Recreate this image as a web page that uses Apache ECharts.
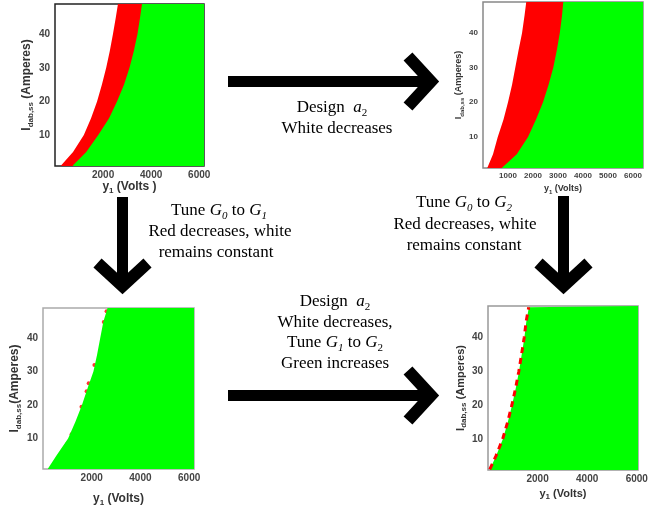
<!DOCTYPE html>
<html><head><meta charset="utf-8">
<script src="https://cdn.jsdelivr.net/npm/echarts@6/dist/echarts.min.js"></script>
<style>html,body{margin:0;padding:0;background:#fff}#c{width:654px;height:508px}</style>
</head><body><div id="c"></div>
<script>
// ---- data ----
const edgeRows   = [1, 5, 10, 15, 20, 25, 30, 35, 40, 45, 49];          // I_dab,ss (A)
const p1RedEdge   = [260, 750, 1200, 1500, 1750, 1950, 2130, 2280, 2410, 2530, 2620];
const p1GreenEdge = [750, 1300, 1800, 2250, 2580, 2870, 3100, 3280, 3430, 3540, 3620];
const p2RedEdge   = [170, 400, 590, 820, 1000, 1160, 1290, 1420, 1560, 1660, 1730];
const p2GreenEdge = [750, 1350, 1800, 2120, 2400, 2620, 2810, 2950, 3070, 3160, 3210];
const p3GreenEdge = [200, 560, 1030, 1330, 1600, 1830, 2070, 2220, 2350, 2480, 2650];
const p4GreenEdge = [80, 330, 600, 800, 970, 1120, 1250, 1360, 1467, 1550, 1650];
const p3DotX = [2610, 2495, 2110, 1875, 1790, 1580, 1175, 980];
const p3DotY = [48.0, 44.8, 32.0, 26.5, 24.1, 19.5, 11.3, 8.3];
const xTicks4 = [2000, 4000, 6000];
const xTicks2 = [1000, 2000, 3000, 4000, 5000, 6000];
const yTicks  = [10, 20, 30, 40];

const RED = '#ff0000', GREEN = '#00ff00', TXT = '#c0141c';
const panels = [
  {left:55,  top:4,   width:149, height:162, xmax:6200, ymin:0.8, ymax:49,   xt:xTicks4, fs:10, nfs:12, sfs:8, border:'#222', yGap:14, xGap:2,  xName:' (Volts )', yName:' (Amperes)'},
  {left:483, top:2,   width:160, height:166, xmax:6400, ymin:1.0, ymax:49,   xt:xTicks2, fs:8,  nfs:9,  sfs:6, border:'#888', yGap:13, xGap:6,  xName:' (Volts)', yName:' (Amperes)'},
  {left:43,  top:308, width:151, height:164, xmax:6200, ymin:0.9, ymax:49,   xt:xTicks4, fs:10, nfs:12, sfs:8, border:'#aaa', yGap:17, xGap:12, xName:' (Volts)', yName:'(Amperes)'},
  {left:488, top:306, width:150, height:164, xmax:6050, ymin:0.8, ymax:49.4, xt:xTicks4, fs:10, nfs:11, sfs:8, border:'#999', yGap:18, xGap:6,  xName:' (Volts)', yName:' (Amperes)'}
];

function edge(xs, p) {
  const d = edgeRows.map((y, i) => [xs[i], y]);
  d.push([p.xmax, p.ymax]);
  return d;
}
function rich(p) {
  const base = {fontFamily:'Liberation Sans, Arial', fontWeight:'bold', color:'#333'};
  return {
    m: Object.assign({}, base, {fontSize:p.nfs, lineHeight:p.nfs+4}),
    s: Object.assign({}, base, {fontSize:p.sfs, lineHeight:p.sfs, verticalAlign:'bottom'})
  };
}
const grid = [], xAxis = [], yAxis = [], series = [];
panels.forEach((p, k) => {
  grid.push({left:p.left, top:p.top, width:p.width, height:p.height, show:true,
             borderColor:p.border, borderWidth:1.5, backgroundColor:'transparent'});
  const lab = {fontSize:p.fs, fontWeight:'bold', color:'#444', fontFamily:'Liberation Sans, Arial',
               formatter:(v) => String(v)};
  xAxis.push({type:'value', gridIndex:k, min:0, max:p.xmax, splitLine:{show:false},
    axisLine:{show:false}, axisTick:{show:false},
    axisLabel:Object.assign({customValues:p.xt, margin:4}, lab),
    name:'{m|y}{s|1}{m|' + p.xName + '}', nameLocation:'middle', nameGap:p.xGap + p.fs,
    nameTextStyle:{rich:rich(p)}});
  yAxis.push({type:'value', gridIndex:k, min:p.ymin, max:p.ymax, splitLine:{show:false},
    axisLine:{show:false}, axisTick:{show:false},
    axisLabel:Object.assign({customValues:yTicks, margin:5}, lab),
    name:'{m|I}{s|dab,ss}{m|' + p.yName + '}', nameLocation:'middle', nameGap:p.yGap,
    nameTextStyle:{rich:rich(p)}});
});
function area(k, xs, color) {
  series.push({type:'line', xAxisIndex:k, yAxisIndex:k, data:edge(xs, panels[k]), symbol:'none',
    lineStyle:{width:0}, areaStyle:{color:color, opacity:1, origin:'start'}, silent:true, animation:false});
}
area(0, p1RedEdge, RED);  area(0, p1GreenEdge, GREEN);
area(1, p2RedEdge, RED);  area(1, p2GreenEdge, GREEN);
area(2, p3GreenEdge, GREEN);
area(3, p4GreenEdge, GREEN);
series.push({type:'scatter', xAxisIndex:2, yAxisIndex:2, symbolSize:4, itemStyle:{color:RED},
  data:p3DotX.map((x, i) => [x, p3DotY[i]]), animation:false, silent:true});
series.push({type:'line', xAxisIndex:3, yAxisIndex:3, symbol:'none', animation:false, silent:true,
  data:edgeRows.map((y, i) => [p4GreenEdge[i] - 8, y]),
  lineStyle:{color:RED, width:3, type:[6, 5]}});

// ---- annotations ----
const SERIF = 'Liberation Serif, Times New Roman';
const tr = {
  n:  {fontFamily:SERIF, fontSize:17, lineHeight:22, color:TXT},
  i:  {fontFamily:SERIF, fontSize:17, lineHeight:22, color:TXT, fontStyle:'italic'},
  si: {fontFamily:SERIF, fontSize:11, lineHeight:11, color:TXT, fontStyle:'italic', verticalAlign:'bottom'},
  s:  {fontFamily:SERIF, fontSize:11, lineHeight:11, color:TXT, verticalAlign:'bottom'}
};
function t(x, y, text) {
  return {type:'text', x:x, y:y, z:10, style:{text:text, rich:tr, align:'center', verticalAlign:'middle'}};
}
const labels = [
  t(332, 108, '{n|Design  }{i|a}{s|2}'), t(337, 129, '{n|White decreases}'),
  t(219, 211, '{n|Tune }{i|G}{si|0}{n| to }{i|G}{si|1}'), t(220, 232, '{n|Red decreases, white}'), t(216, 253, '{n|remains constant}'),
  t(464, 203, '{n|Tune }{i|G}{si|0}{n| to }{i|G}{si|2}'), t(465, 225, '{n|Red decreases, white}'), t(464, 246, '{n|remains constant}'),
  t(335, 302, '{n|Design  }{i|a}{s|2}'), t(335, 323, '{n|White decreases,}'),
  t(335, 343, '{n|Tune }{i|G}{si|1}{n| to }{i|G}{s|2}'), t(335, 364, '{n|Green increases}')
];
function hArrow(x0, x1, yc) {
  return [
    {type:'rect', shape:{x:x0, y:yc - 5.5, width:x1 - x0 - 2, height:11}, style:{fill:'#000'}},
    {type:'polyline', shape:{points:[[x1 - 23, yc - 25], [x1, yc], [x1 - 23, yc + 25]]},
     style:{stroke:'#000', lineWidth:12, lineJoin:'miter', lineCap:'butt', fill:null}}
  ];
}
function vArrow(xc, y0, y1) {
  return [
    {type:'rect', shape:{x:xc - 5.5, y:y0, width:11, height:y1 - y0 - 2}, style:{fill:'#000'}},
    {type:'polyline', shape:{points:[[xc - 25, y1 - 23], [xc, y1], [xc + 25, y1 - 23]]},
     style:{stroke:'#000', lineWidth:12, lineJoin:'miter', lineCap:'butt', fill:null}}
  ];
}
const arrows = [].concat(hArrow(228, 431, 81.5), hArrow(228, 431, 395.5), vArrow(122.5, 197, 286), vArrow(563.5, 196, 286));

const chart = echarts.init(document.getElementById('c'), null, {renderer:'canvas'});
chart.setOption({animation:false, grid:grid, xAxis:xAxis, yAxis:yAxis, series:series,
  graphic:arrows.concat(labels)});
</script></body></html>
